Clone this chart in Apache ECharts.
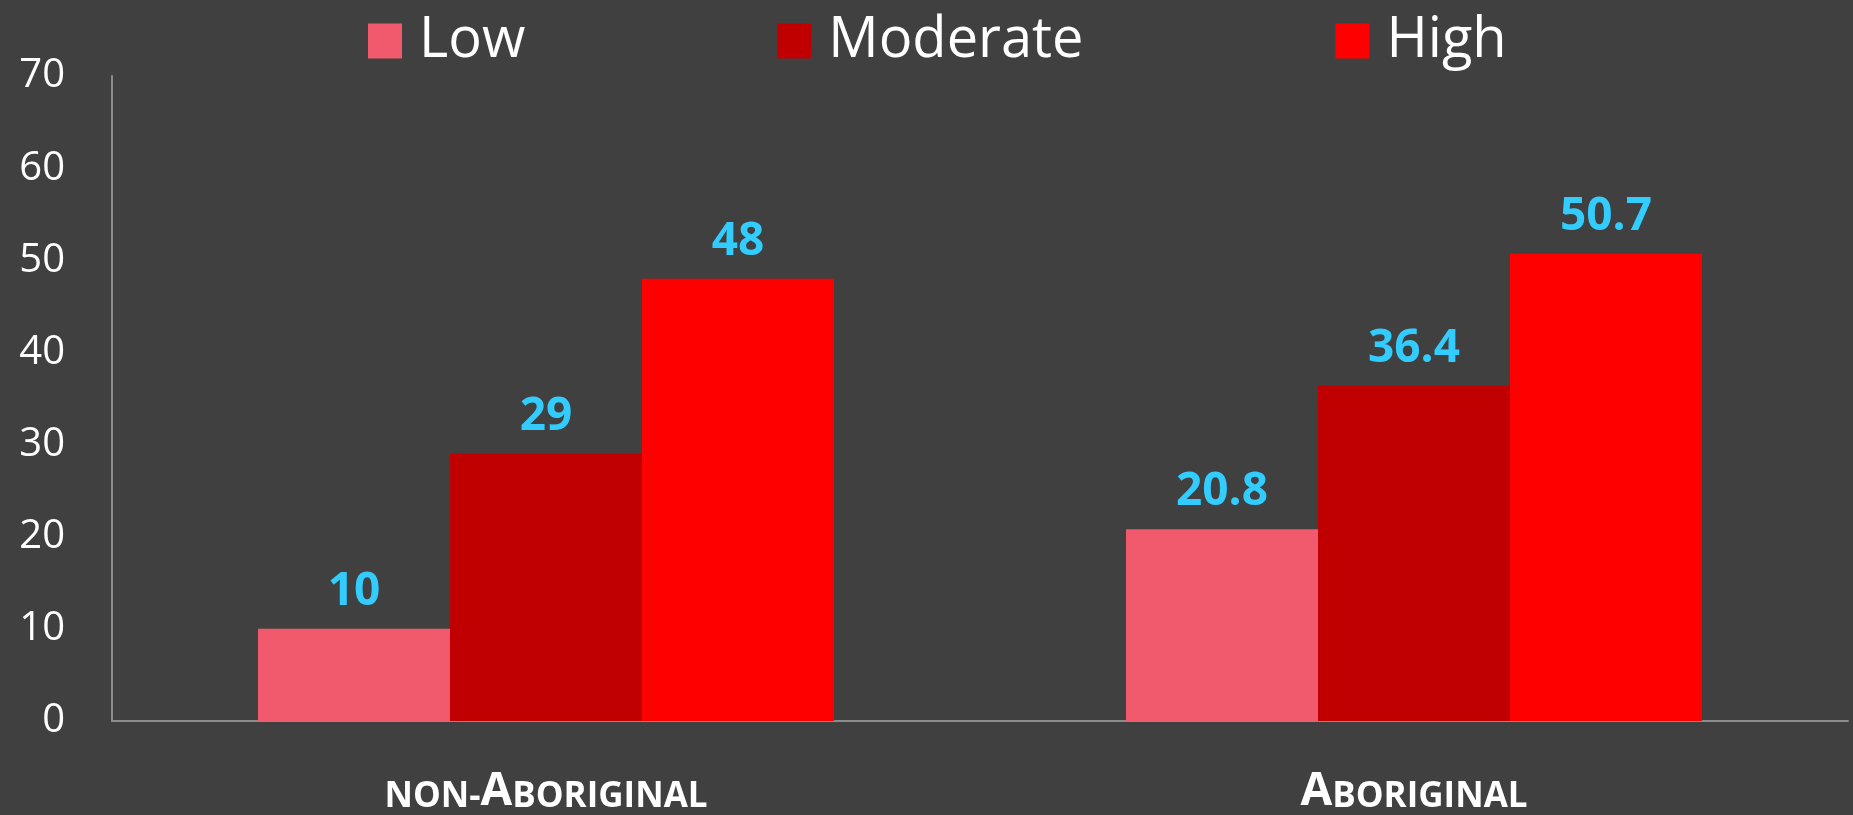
<!DOCTYPE html>
<html>
<head>
<meta charset="utf-8">
<script src="https://cdn.jsdelivr.net/npm/echarts@6/dist/echarts.min.js"></script>
<style>
html,body{margin:0;padding:0;background:#404040;}
#c{width:1853px;height:815px;}
</style>
</head>
<body>
<div id="c"></div>
<script>
const categories = ['non-Aboriginal', 'Aboriginal'];
const seriesNames = ['Low', 'Moderate', 'High'];
const lowValues = [10, 20.8];
const moderateValues = [29, 36.4];
const highValues = [48, 50.7];
const yTicks = [0, 10, 20, 30, 40, 50, 60, 70];

const colors = ['#F05A6C', '#C00000', '#FF0000'];
const FONT = '"Open Sans", "Noto Sans", sans-serif';

const chart = echarts.init(document.getElementById('c'));
const labelCfg = {
  show: true, position: 'top', distance: 14,
  color: '#33CCFF', fontSize: 46, fontWeight: 'bold', fontFamily: FONT
};
function mk(name, data, color) {
  return {
    name, type: 'bar', data, barWidth: 192, barGap: '0%',
    itemStyle: { color }, label: labelCfg
  };
}
function smallCaps(s) {
  let out = '';
  for (const ch of s) {
    if (ch >= 'A' && ch <= 'Z') out += '{b|' + ch + '}';
    else out += '{s|' + ch.toUpperCase() + '}';
  }
  return out;
}
chart.setOption({
  backgroundColor: '#404040',
  animation: false,
  legend: {
    data: seriesNames, left: 363, top: 5, itemWidth: 34, itemHeight: 35,
    itemGap: 252, icon: 'rect',
    textStyle: { color: '#FFFFFF', fontSize: 56, fontFamily: FONT, lineHeight: 62, padding: [0, 0, 0, 12] }
  },
  grid: { left: 112, right: 5, top: 76, bottom: 88, containLabel: false },
  xAxis: {
    type: 'category', data: categories,
    axisLine: { show: true, lineStyle: { color: '#8C8C8C', width: 2 } },
    axisTick: { show: false },
    axisLabel: {
      margin: 44, interval: 0,
      formatter: v => smallCaps(v),
      rich: {
        b: { color: '#FFFFFF', fontSize: 46, fontWeight: 'bold', fontFamily: FONT, verticalAlign: 'bottom', lineHeight: 50 },
        s: { color: '#FFFFFF', fontSize: 35, fontWeight: 'bold', fontFamily: FONT, verticalAlign: 'bottom', lineHeight: 50 }
      }
    }
  },
  yAxis: {
    type: 'value', min: yTicks[0], max: yTicks[yTicks.length - 1], interval: 10,
    axisLine: { show: true, lineStyle: { color: '#8C8C8C', width: 2 } },
    axisTick: { show: false },
    splitLine: { show: false },
    axisLabel: { color: '#FFFFFF', fontSize: 40, fontFamily: FONT, margin: 47 }
  },
  series: [
    mk(seriesNames[0], lowValues, colors[0]),
    mk(seriesNames[1], moderateValues, colors[1]),
    mk(seriesNames[2], highValues, colors[2])
  ]
});
</script>
</body>
</html>
